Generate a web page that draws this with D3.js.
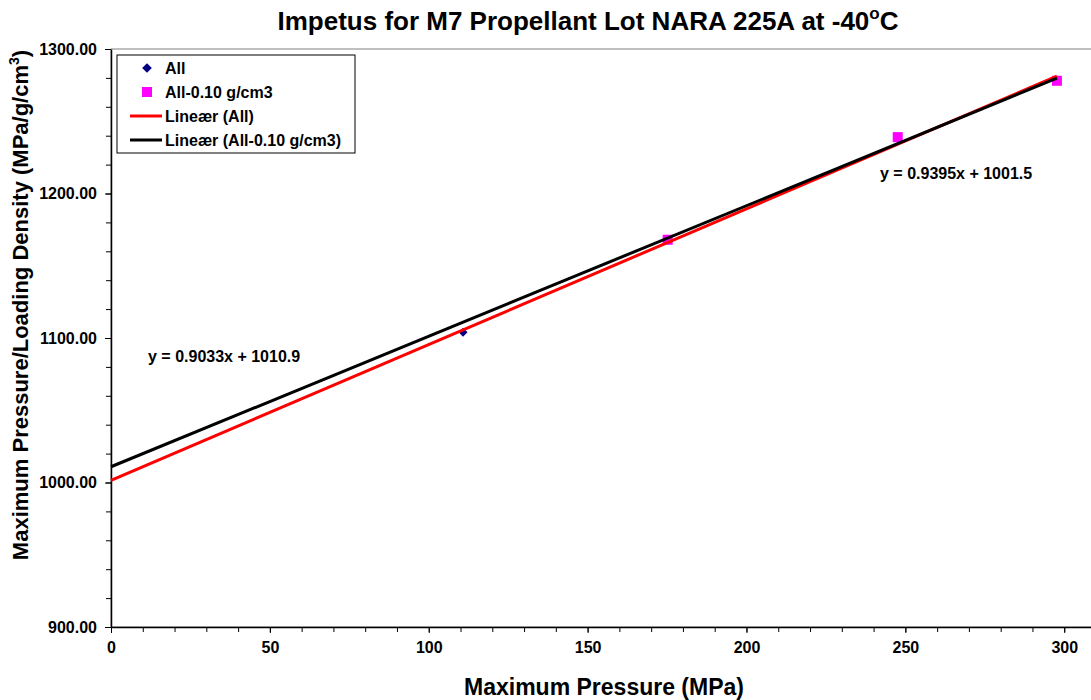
<!DOCTYPE html>
<html>
<meta charset="utf-8">
<style>
  body { margin: 0; padding: 0; background: #fff; }
  svg { font-family: "Liberation Sans", Arial, sans-serif; font-weight: bold; }
  .axis path, .axis line { stroke: #000; }
</style>
<body>
<svg id="chart" width="1091" height="700"></svg>
<script src="https://cdn.jsdelivr.net/npm/d3@7"></script>
<script>
// series: All
var allX = [110.8, 175.2, 247.6, 297.7];
var allY = [1104, 1168, 1239, 1278];
// series: All-0.10 g/cm3
var subX = [175.2, 247.6, 297.7];
var subY = [1168, 1239, 1278];
// trend line coefficients
var trendNames = ["Lineær (All)", "Lineær (All-0.10 g/cm3)"];
var trendSlope = [0.9395, 0.9033];
var trendIntercept = [1001.5, 1010.9];
var trendLabels = ["y = 0.9395x + 1001.5", "y = 0.9033x + 1010.9"];
var xTicks = [0, 50, 100, 150, 200, 250, 300];
var yTicks = [900, 1000, 1100, 1200, 1300];

var svg = d3.select("#chart");
var plotLeft = 111, plotRight = 1096, plotTop = 49, plotBottom = 627;

var x = d3.scaleLinear().domain([0, 310]).range([plotLeft, plotRight]);
var y = d3.scaleLinear().domain([900, 1300]).range([plotBottom, plotTop]);

// plot area border
svg.append("rect")
  .attr("x", plotLeft).attr("y", plotTop)
  .attr("width", plotRight - plotLeft).attr("height", plotBottom - plotTop)
  .attr("fill", "none").attr("stroke", "#808080").attr("stroke-width", 1);

// minor ticks
svg.append("g")
  .attr("class", "axis")
  .attr("transform", "translate(0," + plotBottom + ")")
  .call(d3.axisBottom(x).tickValues(d3.range(0, 311, 10)).tickSize(5).tickFormat(""))
  .select(".domain").remove();
svg.append("g")
  .attr("class", "axis")
  .attr("transform", "translate(" + plotLeft + ",0)")
  .call(d3.axisLeft(y).tickValues(d3.range(900, 1301, 20)).tickSize(5).tickFormat(""))
  .select(".domain").remove();

var xAxis = svg.append("g")
  .attr("class", "axis")
  .attr("transform", "translate(0," + plotBottom + ")")
  .call(d3.axisBottom(x).tickValues(xTicks).tickSize(6).tickSizeOuter(0).tickPadding(9).tickFormat(d3.format("d")));
xAxis.select(".domain").attr("stroke-width", 1.5);

var yAxis = svg.append("g")
  .attr("class", "axis")
  .attr("transform", "translate(" + plotLeft + ",0)")
  .call(d3.axisLeft(y).tickValues(yTicks).tickSize(6).tickSizeOuter(0).tickPadding(8).tickFormat(d3.format(".2f")));
yAxis.select(".domain").attr("stroke-width", 1.5);

svg.selectAll(".axis").attr("font-family", null).attr("font-size", null);
svg.selectAll(".axis text").style("font-size", "16px").style("font-weight", "bold").attr("fill", "#000");

// markers
var diamond = d3.symbol().type(d3.symbolDiamond2).size(50);
svg.append("g").selectAll("path")
  .data(allX.map(function(v, i) { return [v, allY[i]]; }))
  .enter().append("path")
  .attr("d", diamond)
  .attr("transform", function(d) { return "translate(" + x(d[0]) + "," + y(d[1]) + ")"; })
  .attr("fill", "#000080");

svg.append("g").selectAll("rect")
  .data(subX.map(function(v, i) { return [v, subY[i]]; }))
  .enter().append("rect")
  .attr("x", function(d) { return x(d[0]) - 5; })
  .attr("y", function(d) { return y(d[1]) - 5; })
  .attr("width", 10).attr("height", 10)
  .attr("fill", "#ff00ff");

// trend lines (drawn over the markers)
var trendColors = ["#ff0000", "#000000"];
var xEnd = d3.max(allX);
trendSlope.forEach(function(m, i) {
  var b = trendIntercept[i];
  svg.append("line")
    .attr("x1", x(0)).attr("y1", y(b))
    .attr("x2", x(xEnd)).attr("y2", y(m * xEnd + b))
    .attr("stroke", trendColors[i]).attr("stroke-width", 3);
});

// equation labels
svg.append("text").attr("x", 880).attr("y", 179)
  .attr("font-size", 16).text(trendLabels[0]);
svg.append("text").attr("x", 148).attr("y", 362)
  .attr("font-size", 16).text(trendLabels[1]);

// legend
var lg = svg.append("g");
lg.append("rect").attr("x", 117).attr("y", 55).attr("width", 238).attr("height", 98)
  .attr("fill", "#fff").attr("stroke", "#000").attr("stroke-width", 1);
var legendItems = ["All", "All-0.10 g/cm3"].concat(trendNames);
legendItems.forEach(function(name, i) {
  var cy = 68 + i * 24;
  if (i === 0) {
    lg.append("path").attr("d", d3.symbol().type(d3.symbolDiamond2).size(60))
      .attr("transform", "translate(147," + cy + ")").attr("fill", "#000080");
  } else if (i === 1) {
    lg.append("rect").attr("x", 142).attr("y", cy - 5).attr("width", 10).attr("height", 10).attr("fill", "#ff00ff");
  } else {
    lg.append("line").attr("x1", 130).attr("x2", 162).attr("y1", cy).attr("y2", cy)
      .attr("stroke", trendColors[i - 2]).attr("stroke-width", 3);
  }
  lg.append("text").attr("x", 165).attr("y", cy + 5.5).attr("font-size", 16).text(name);
});

// title
var title = svg.append("text").attr("x", 588).attr("y", 30).attr("text-anchor", "middle")
  .attr("font-size", 26);
title.append("tspan").text("Impetus for M7 Propellant Lot NARA 225A at -40");
title.append("tspan").attr("font-size", 17).attr("dy", -11).text("o");
title.append("tspan").attr("dy", 11).text("C");

// x label
svg.append("text").attr("x", 604).attr("y", 695).attr("text-anchor", "middle")
  .attr("font-size", 23).text("Maximum Pressure (MPa)");

// y label
var yl = svg.append("text").attr("transform", "translate(28,305) rotate(-90)")
  .attr("text-anchor", "middle").attr("font-size", 22);
yl.append("tspan").text("Maximum Pressure/Loading Density (MPa/g/cm");
yl.append("tspan").attr("font-size", 14).attr("dy", -9).text("3");
yl.append("tspan").attr("dy", 9).text(")");
</script>
</body>
</html>
